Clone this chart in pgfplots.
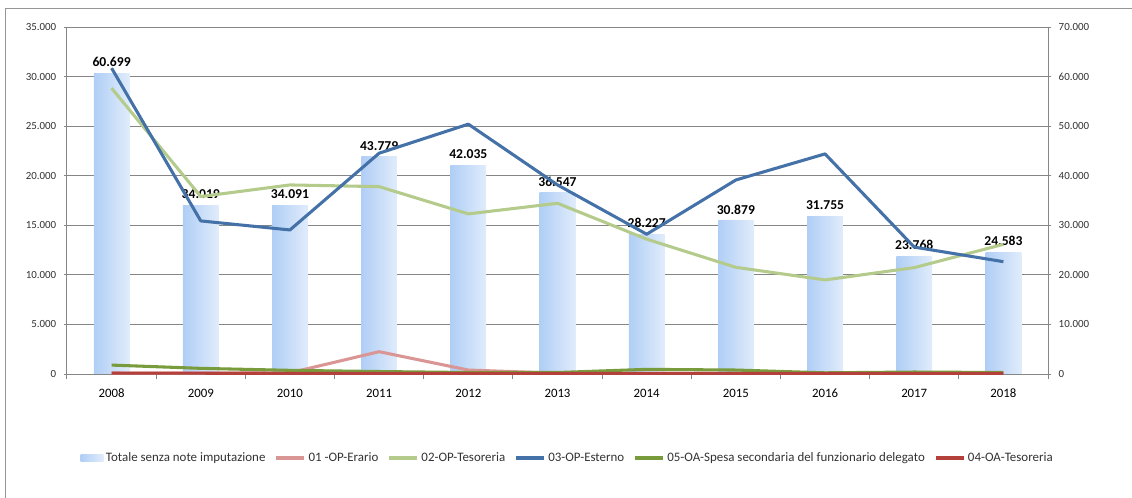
\documentclass[border=0pt]{standalone}
\usepackage{pgfplots}
\pgfplotsset{compat=1.18}
\usepackage{fontspec}
\setmainfont{Carlito}

\definecolor{barL}{RGB}{176,206,246}
\definecolor{barR}{RGB}{224,236,251}
\definecolor{gridgray}{RGB}{134,134,134}
\definecolor{framegray}{RGB}{150,150,150}
\definecolor{labelgray}{RGB}{50,50,50}
\definecolor{erario}{RGB}{217,150,148}
\definecolor{tesoreria}{RGB}{180,203,140}
\definecolor{esterno}{RGB}{68,114,168}
\definecolor{spesa}{RGB}{120,155,60}
\definecolor{oatesoreria}{RGB}{180,64,60}

\pgfplotsset{
 common/.style={
  at={(0pt,0pt)},anchor=south west,scale only axis,
  width=735.75pt,height=260.25pt,
  xmin=-0.5,xmax=10.5,ymin=0,
  axis line style={draw=gridgray,line width=0.75pt,-},
  tick align=outside,major tick length=2.5pt,minor tick length=4pt,
  tick style={draw=gridgray,line width=0.75pt},
  scaled y ticks=false,
  yticklabel style={font=\fontsize{8.2}{9}\selectfont,text=labelgray,
   /pgf/number format/1000 sep={.},/pgf/number format/assume math mode=true},
 },
 onebar/.style={draw=none,left color=barL,right color=barR,
  nodes near coords={\pgfmathprintnumber[fixed,precision=0,1000 sep={.},assume math mode=true]{\pgfplotspointmeta}},
  every node near coord/.append style={text=black,font=\bfseries\fontsize{10.2}{12}\selectfont,yshift=1.5pt}},
}

\begin{document}
\begin{tikzpicture}
\useasboundingbox (-50.25pt,-92.25pt) rectangle (798.75pt,280.5pt);
\draw[framegray,line width=0.75pt] (-45.75pt,-120pt) -- (-45.75pt,273.75pt) -- (820pt,273.75pt);

% bars on the right-hand axis (one plot per bar so that each bar gets its own gradient)
\begin{axis}[common,
 ymax=70000,
 axis x line=none,axis y line*=right,
 xtick=\empty,ytick={0,10000,...,70000},
 ymajorgrids,grid style={draw=gridgray,line width=0.75pt},
 yticklabel style={xshift=2pt},
 ybar,bar width=0.4,bar shift=0pt,
]
\addplot[onebar] coordinates {(0,60699)};
\addplot[onebar] coordinates {(1,34019)};
\addplot[onebar] coordinates {(2,34091)};
\addplot[onebar] coordinates {(3,43779)};
\addplot[onebar] coordinates {(4,42035)};
\addplot[onebar] coordinates {(5,36547)};
\addplot[onebar] coordinates {(6,28227)};
\addplot[onebar] coordinates {(7,30879)};
\addplot[onebar] coordinates {(8,31755)};
\addplot[onebar] coordinates {(9,23768)};
\addplot[onebar] coordinates {(10,24583)};
\end{axis}

% lines on the left-hand axis
\begin{axis}[common,
 ymax=35000,
 axis x line*=bottom,axis y line*=left,
 xtick={0,...,10},xticklabels={2008,2009,2010,2011,2012,2013,2014,2015,2016,2017,2018},
 major x tick style={draw=none},
 minor xtick={-0.5,0.5,...,10.5},
 xticklabel style={font=\fontsize{9.6}{11}\selectfont,text=black,yshift=-5pt},
 ytick={0,5000,...,35000},
 yticklabel style={xshift=-2pt},
 every axis plot/.append style={line width=2.3pt,line join=round,mark=none},
 legend image code/.code={\draw[#1] (0pt,0pt) -- (21pt,0pt);},
 legend columns=-1,
 legend style={draw=none,fill=none,at={(0.5107,-0.242)},anchor=center,
  font=\fontsize{9.7}{11}\selectfont,text=labelgray,inner xsep=1pt,
  /tikz/every even column/.append style={column sep=5pt}},
]
\addlegendimage{legend image code/.code={\shade[draw=none,left color=barL,right color=barR] (0pt,-2.6pt) rectangle (17pt,2.6pt);}}
\addlegendentry{Totale senza note imputazione}
\addplot[erario] coordinates {(0,100) (1,80) (2,120) (3,2250) (4,400) (5,80) (6,50) (7,50) (8,50) (9,50) (10,50)};
\addlegendentry{01 -OP-Erario}
\addplot[tesoreria] coordinates {(0,28830) (1,17900) (2,19070) (3,18900) (4,16150) (5,17220) (6,13600) (7,10760) (8,9490) (9,10730) (10,13080)};
\addlegendentry{02-OP-Tesoreria}
\addplot[esterno] coordinates {(0,30850) (1,15440) (2,14530) (3,22270) (4,25200) (5,19070) (6,14100) (7,19570) (8,22200) (9,12800) (10,11330)};
\addlegendentry{03-OP-Esterno}
\addplot[spesa] coordinates {(0,900) (1,570) (2,370) (3,250) (4,150) (5,150) (6,470) (7,400) (8,120) (9,200) (10,150)};
\addlegendentry{05-OA-Spesa secondaria del funzionario delegato}
\addplot[oatesoreria] coordinates {(0,90) (1,80) (2,70) (3,70) (4,60) (5,60) (6,60) (7,60) (8,50) (9,50) (10,50)};
\addlegendentry{04-OA-Tesoreria}
\end{axis}
\end{tikzpicture}
\end{document}
